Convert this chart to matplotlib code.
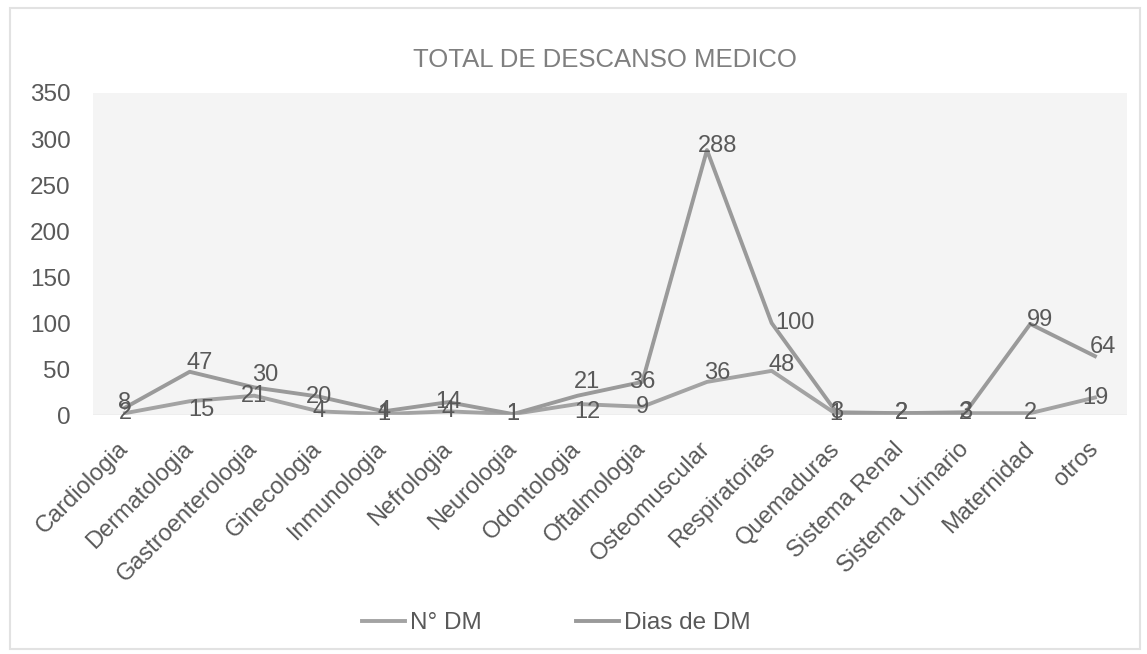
import matplotlib
matplotlib.use("Agg")
import matplotlib.pyplot as plt
from matplotlib.patches import Rectangle

# datos del grafico
categorias = ["Cardiologia", "Dermatologia", "Gastroenterologia", "Ginecologia",
              "Inmunologia", "Nefrologia", "Neurologia", "Odontologia",
              "Oftalmologia", "Osteomuscular", "Respiratorias", "Quemaduras",
              "Sistema Renal", "Sistema Urinario", "Maternidad", "otros"]
n_dm = [2, 15, 21, 4, 1, 4, 1, 12, 9, 36, 48, 1, 2, 2, 2, 19]
dias_dm = [8, 47, 30, 20, 4, 14, 1, 21, 36, 288, 100, 3, 2, 3, 99, 64]
yticks = [0, 50, 100, 150, 200, 250, 300, 350]

# desplazamiento de las etiquetas (pixeles)
off_n = [(0, 0), (12, -9), (0, 0), (0, 0), (0, 0), (0, 0), (0, 0), (10, -8),
         (0, 0), (10, 9), (10, 6), (0, 0), (0, 0), (0, 0), (0, 0), (0, 0)]
off_d = [(0, 5), (10, 9), (11, 12), (0, 0), (0, 0), (0, 0), (0, 0), (9, 14),
         (0, 0), (11, 4), (23, 0), (0, 0), (0, 0), (0, 0), (10, 4), (8, 9)]

plt.rcParams["font.family"] = ["Liberation Sans", "DejaVu Sans"]
texto = "#595959"

fig = plt.figure(figsize=(11.47, 6.54), dpi=100)
fig.patches.append(Rectangle((0.009, 0.008), 0.985, 0.98, transform=fig.transFigure,
                             fill=False, edgecolor="#e2e2e2", linewidth=1.5))
ax = fig.add_axes([0.0808, 0.3654, 0.902, 0.4924])
ax.set_facecolor("#f4f4f4")

x = list(range(len(categorias)))
l1, = ax.plot(x, n_dm, color="#a3a3a3", linewidth=2.8, solid_joinstyle="round")
l2, = ax.plot(x, dias_dm, color="#9a9a9a", linewidth=2.8, solid_joinstyle="round")

for i in x:
    ax.annotate(str(n_dm[i]), (i, n_dm[i]), xytext=off_n[i], textcoords="offset pixels",
                ha="center", va="center", fontsize=17, color=texto)
    ax.annotate(str(dias_dm[i]), (i, dias_dm[i]), xytext=off_d[i], textcoords="offset pixels",
                ha="center", va="center", fontsize=17, color=texto)

ax.set_xlim(-0.5, len(categorias) - 0.5)
ax.set_ylim(0, 350)
ax.set_yticks(yticks)
ax.set_yticklabels([str(v) for v in yticks], fontsize=17.5, color=texto)
ax.set_xticks(x)
ax.set_xticklabels(categorias, rotation=45, ha="right", va="center",
                   rotation_mode="anchor", fontsize=17, color=texto)
ax.tick_params(axis="both", length=0)
ax.tick_params(axis="y", pad=16)
ax.tick_params(axis="x", pad=22)
for s in ax.spines.values():
    s.set_visible(False)
ax.axhline(0, color="#d9d9d9", linewidth=1)

fig.text(0.527, 0.908, "TOTAL DE DESCANSO MEDICO", ha="center", va="center",
         fontsize=18.5, color="#7f7f7f")

fig.legend([l1, l2], ["N° DM", "Dias de DM"], loc="center", bbox_to_anchor=(0.485, 0.047),
           ncol=2, frameon=False, fontsize=17.5, handlelength=1.75, handletextpad=0.2,
           columnspacing=3.9, labelcolor=texto)

fig.savefig("out.png", dpi=100, facecolor="white")
